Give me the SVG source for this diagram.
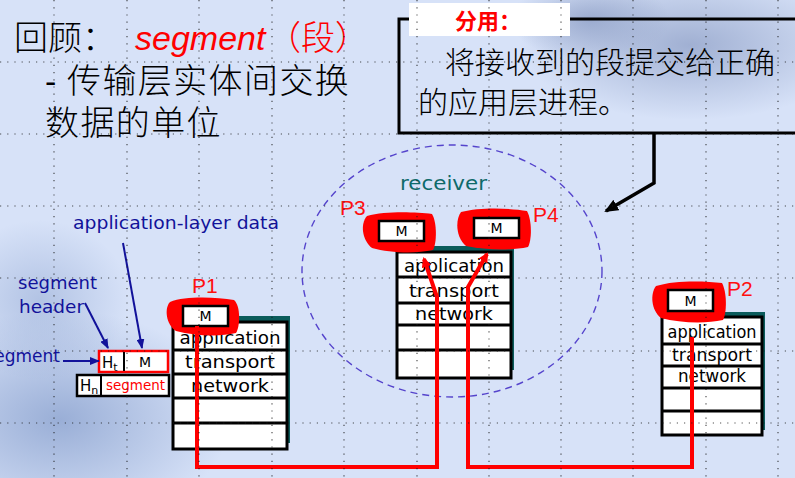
<svg xmlns="http://www.w3.org/2000/svg" width="795" height="478" viewBox="0 0 795 478">
<defs>
<style>
.cjk{font-family:"Noto Sans CJK SC","Noto Sans",sans-serif;font-weight:300;}
.lat{font-family:"Liberation Sans",Arial,sans-serif;}
.comic{font-family:"Comic Sans MS","DejaVu Sans","Noto Sans",sans-serif;}
.stk{fill:#fff;stroke:#000;stroke-width:3;}
.shd{fill:#0b5c5c;}
.sep{stroke:#000;stroke-width:3;}
.lay{font-family:"Comic Sans MS","DejaVu Sans","Noto Sans",sans-serif;font-size:17px;fill:#000;text-anchor:middle;}
.mbox{fill:#fff;stroke:#000;stroke-width:2.5;}
.mtxt{font-family:"Comic Sans MS","DejaVu Sans",sans-serif;font-size:14px;fill:#000;text-anchor:middle;}
.blob{fill:#ff0000;}
.plab{font-family:"Liberation Sans",Arial,sans-serif;font-size:21px;fill:#ff1010;}
.red{fill:none;stroke:#ff0000;stroke-width:4;stroke-linejoin:miter;}
.blue{fill:none;stroke:#12129a;stroke-width:2;}
.btxt{font-family:"Comic Sans MS","DejaVu Sans",sans-serif;font-size:17px;fill:#12129a;}
.grid{stroke:#1a1a1a;stroke-width:1.2;stroke-dasharray:1.2 6;fill:none;opacity:0.75;}
</style>
<radialGradient id="gTR" cx="0.5" cy="0.5" r="0.5">
<stop offset="0" stop-color="#8e9fc6" stop-opacity="0.75"/>
<stop offset="1" stop-color="#8e9fc6" stop-opacity="0"/>
</radialGradient>
<radialGradient id="gBL" cx="0.5" cy="0.5" r="0.5">
<stop offset="0" stop-color="#7f98c8" stop-opacity="0.7"/>
<stop offset="1" stop-color="#7f98c8" stop-opacity="0"/>
</radialGradient>
<marker id="arRed" markerWidth="10" markerHeight="10" refX="8" refY="5" orient="auto" markerUnits="userSpaceOnUse">
<path d="M0,0 L10,5 L0,10 Z" fill="#ff0000"/>
</marker>
<marker id="arBlk" markerWidth="14" markerHeight="12" refX="12" refY="6" orient="auto" markerUnits="userSpaceOnUse">
<path d="M0,0 L14,6 L0,12 Z" fill="#000"/>
</marker>
<marker id="arBlue" markerWidth="10" markerHeight="8" refX="9" refY="4" orient="auto" markerUnits="userSpaceOnUse">
<path d="M0,0 L10,4 L0,8 Z" fill="#12129a"/>
</marker>
</defs>

<!-- background -->
<rect x="0" y="0" width="795" height="478" fill="#d7e2f8"/>
<ellipse cx="690" cy="45" rx="170" ry="75" fill="url(#gTR)"/>
<ellipse cx="590" cy="20" rx="80" ry="40" fill="url(#gTR)"/>
<ellipse cx="60" cy="420" rx="170" ry="110" fill="url(#gBL)"/>
<ellipse cx="40" cy="300" rx="90" ry="80" fill="url(#gBL)" opacity="0.6"/>

<!-- title -->
<g id="title">
<text class="cjk" x="14" y="50" font-size="34" fill="#000">回顾：</text>
<text class="lat" x="135" y="50" font-size="34" font-style="italic" fill="#ff0000">segment</text>
<text class="cjk" x="267" y="50" font-size="34" fill="#ff0000">（段）</text>
<text class="lat" x="45" y="93" font-size="34" fill="#000">-</text>
<text class="cjk" x="67" y="93" font-size="34" fill="#000" letter-spacing="1.4">传输层实体间交换</text>
<text class="cjk" x="45" y="135" font-size="34" fill="#000" letter-spacing="1.4">数据的单位</text>
</g>

<!-- demux note box -->
<g id="note">
<rect x="399" y="19" width="420" height="114" fill="none" stroke="#000" stroke-width="3"/>
<rect x="409" y="3" width="161" height="33" fill="#fff"/>
<text class="cjk" x="455" y="29" font-size="22" font-weight="bold" fill="#ff0000" style="font-weight:700">分用：</text>
<text class="cjk" x="445" y="73" font-size="30" fill="#000">将接收到的段提交给正确</text>
<text class="cjk" x="418" y="113" font-size="30" fill="#000">的应用层进程。</text>
</g>

<!-- receiver ellipse -->
<g id="receiver">
<ellipse cx="452" cy="271" rx="150" ry="126" fill="none" stroke="#5544cc" stroke-width="1.4" stroke-dasharray="7 5"/>
<text class="comic" x="400" y="190" font-size="19" fill="#0e6a6a" textLength="87" lengthAdjust="spacingAndGlyphs">receiver</text>
</g>

<!-- P1 stack -->
<g id="stackP1">
<rect class="shd" x="176" y="316" width="114" height="127"/>
<rect class="stk" x="173" y="322" width="114" height="127"/>
<line class="sep" x1="173" y1="350" x2="287" y2="350"/>
<line class="sep" x1="173" y1="374" x2="287" y2="374"/>
<line class="sep" x1="173" y1="398" x2="287" y2="398"/>
<line class="sep" x1="173" y1="423" x2="287" y2="423"/>
<text class="lay" x="230" y="344" font-size="19" textLength="101" lengthAdjust="spacingAndGlyphs">application</text>
<text class="lay" x="230" y="368" font-size="19" textLength="90" lengthAdjust="spacingAndGlyphs">transport</text>
<text class="lay" x="230" y="392" font-size="19" textLength="78" lengthAdjust="spacingAndGlyphs">network</text>
<path class="blob" d="M170,302 C185,296 215,297 234,300 C241,306 240,327 236,333 C220,337 195,336 176,331 C166,325 164,308 170,302 Z"/>
<rect class="mbox" x="183" y="306" width="45" height="20"/>
<text class="mtxt" x="205.5" y="321">M</text>
<text class="plab" x="192" y="293">P1</text>
</g>

<!-- receiver stack -->
<g id="stackRecv">
<rect class="shd" x="400" y="246" width="114" height="124"/>
<rect class="stk" x="397" y="252" width="114" height="126"/>
<line class="sep" x1="397" y1="277" x2="511" y2="277"/>
<line class="sep" x1="397" y1="303" x2="511" y2="303"/>
<line class="sep" x1="397" y1="325" x2="511" y2="325"/>
<line class="sep" x1="397" y1="350" x2="511" y2="350"/>
<text class="lay" x="454" y="272" font-size="19" textLength="100" lengthAdjust="spacingAndGlyphs">application</text>
<text class="lay" x="454" y="297" font-size="19" textLength="90" lengthAdjust="spacingAndGlyphs">transport</text>
<text class="lay" x="454" y="320" font-size="19" textLength="78" lengthAdjust="spacingAndGlyphs">network</text>
<path class="blob" d="M367,216 C385,211 415,212 432,214 C437,222 437,243 433,250 C415,254 390,253 372,248 C362,240 360,224 367,216 Z"/>
<rect class="mbox" x="379" y="221" width="45" height="20"/>
<text class="mtxt" x="401.5" y="236">M</text>
<path class="blob" d="M461,212 C480,207 510,208 527,211 C532,220 532,240 528,247 C510,251 485,250 466,246 C456,238 455,220 461,212 Z"/>
<rect class="mbox" x="474" y="218" width="45" height="20"/>
<text class="mtxt" x="496.5" y="233">M</text>
<text class="plab" x="340" y="215">P3</text>
<text class="plab" x="533" y="222">P4</text>
</g>

<!-- P2 stack -->
<g id="stackP2">
<rect class="shd" x="665" y="312" width="100" height="118"/>
<rect class="stk" x="662" y="317" width="100" height="118"/>
<line class="sep" x1="662" y1="344" x2="762" y2="344"/>
<line class="sep" x1="662" y1="366" x2="762" y2="366"/>
<line class="sep" x1="662" y1="388" x2="762" y2="388"/>
<line class="sep" x1="662" y1="411" x2="762" y2="411"/>
<text class="lay" x="712" y="338" textLength="89" lengthAdjust="spacingAndGlyphs">application</text>
<text class="lay" x="712" y="361" textLength="80" lengthAdjust="spacingAndGlyphs">transport</text>
<text class="lay" x="712" y="382" textLength="68" lengthAdjust="spacingAndGlyphs">network</text>
<path class="blob" d="M656,286 C675,280 705,281 722,283 C727,292 727,313 723,320 C705,324 680,323 661,318 C651,310 650,294 656,286 Z"/>
<rect class="mbox" x="668" y="290" width="45" height="21"/>
<text class="mtxt" x="690.5" y="306">M</text>
<text class="plab" x="727" y="296">P2</text>
</g>

<!-- segment illustration -->
<g id="segmentBoxes">
<rect x="99" y="351" width="69" height="21" fill="#fff" stroke="#ff0000" stroke-width="2.5"/>
<line x1="124" y1="352" x2="124" y2="371" stroke="#000" stroke-width="2"/>
<text class="comic" x="102" y="368" font-size="15" fill="#000">H<tspan font-size="11" dy="3">t</tspan></text>
<text class="mtxt" x="145" y="367">M</text>
<rect x="77" y="375" width="92" height="21" fill="#fff" stroke="#000" stroke-width="2.5"/>
<line x1="101" y1="376" x2="101" y2="395" stroke="#000" stroke-width="2"/>
<text class="comic" x="80" y="391" font-size="15" fill="#000">H<tspan font-size="11" dy="3">n</tspan></text>
<text class="comic" x="106" y="390" font-size="14" fill="#ff0000" textLength="59" lengthAdjust="spacingAndGlyphs">segment</text>
</g>

<g id="labels">
<text class="btxt" x="73" y="229" textLength="206" lengthAdjust="spacingAndGlyphs">application-layer data</text>
<text class="btxt" x="18" y="289" textLength="79" lengthAdjust="spacingAndGlyphs">segment</text>
<text class="btxt" x="19" y="313" textLength="65" lengthAdjust="spacingAndGlyphs">header</text>
<text class="btxt" x="60" y="362" text-anchor="end">segment</text>
</g>

<!-- connectors -->
<g id="connectors">
<path class="red" d="M197,326 V467 H437 V297 L424,259" marker-end="url(#arRed)"/>
<path class="red" d="M692,337 V467 H468 V287 L487,254" marker-end="url(#arRed)"/>
<path d="M654,133 V183 L606,211" fill="none" stroke="#000" stroke-width="3.5" marker-end="url(#arBlk)"/>
<path class="blue" d="M63,361 L99,361" marker-end="url(#arBlue)"/>
<path class="blue" d="M85,303 L108,348" marker-end="url(#arBlue)"/>
<path class="blue" d="M123,243 L142,348" marker-end="url(#arBlue)"/>
</g>

<!-- dotted guide grid -->
<g id="grid" class="grid">
<path d="M54,0 V478 M127,0 V478 M199,0 V478 M272,0 V478 M344,0 V478 M417,0 V478 M489,0 V478 M561,0 V478 M633,0 V478 M706,0 V478 M778,0 V478"/>
<path d="M0,62 H795 M0,134 H795 M0,206 H795 M0,278 H795 M0,351 H795 M0,423 H795"/>
</g>
</svg>
